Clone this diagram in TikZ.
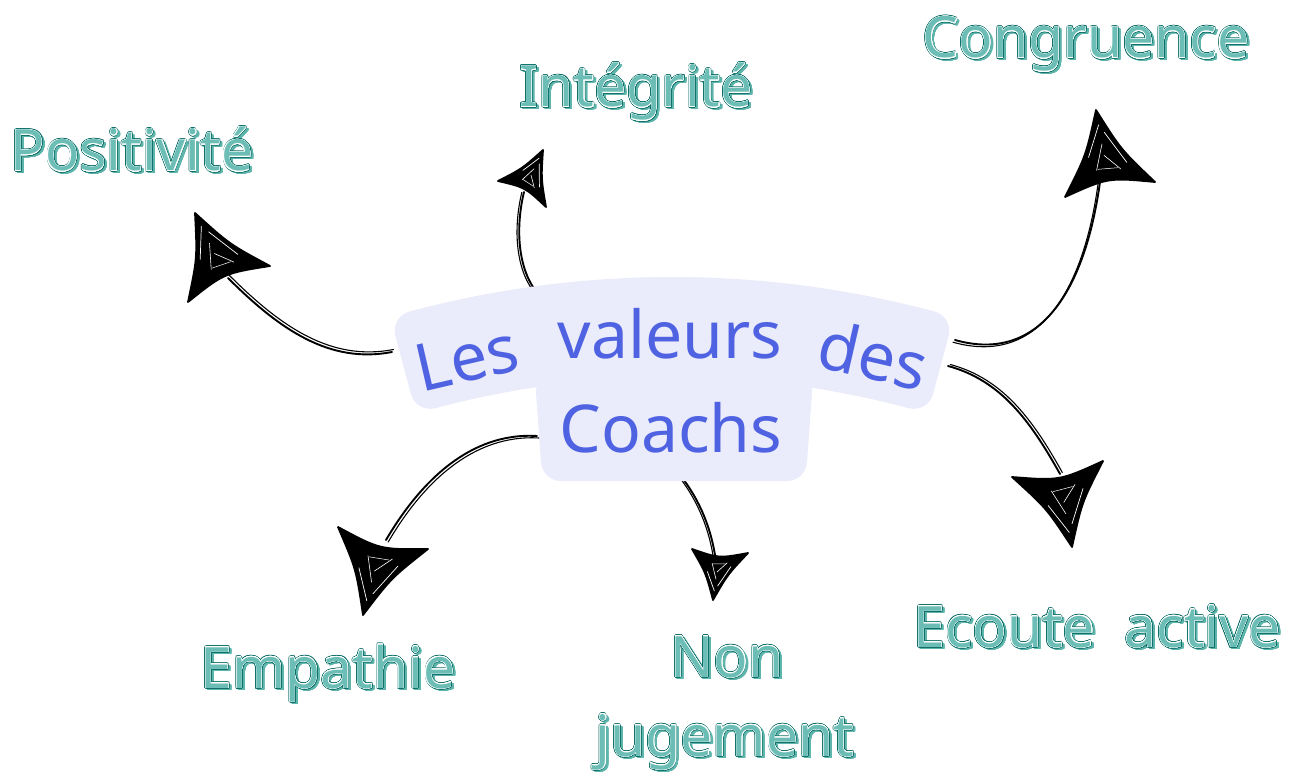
\documentclass[tikz,border=0pt]{standalone}
\usepackage{fontspec}
\setmainfont{Noto Sans}
\usepackage{contour}
\usetikzlibrary{calc}
\definecolor{tdark}{HTML}{12706A}
\definecolor{tlight}{HTML}{5DB5AC}
\definecolor{tin}{HTML}{6CBDB5}
\definecolor{cblue}{HTML}{4F63E2}
\definecolor{cband}{HTML}{EAEBFB}
\tikzset{
  lab/.style={font=\fontsize{57}{68}\selectfont, anchor=base, inner sep=0pt},
  ctext/.style={font=\fontsize{66}{76}\selectfont, anchor=base, inner sep=0pt, text=cblue},
  bandshape/.style={fill=cband, draw=cband, line width=40pt, line join=round},
  shaftline/.style={line width=1.9pt, line cap=round, black},
  shaftthin/.style={line width=1.1pt, line cap=round, black},
}
\newcommand\lbl[3]{%
  \node[lab, text=tlight] (#1s) at ($(#2)+(2.3,2.0)$) {\contourlength{0.9pt}\contour{tlight}{#3}};
  \node[lab, text=tdark] (#1o) at (#2) {\contourlength{1.1pt}\contour{tdark}{#3}};
  \node[lab, text=tin] (#1) at (#2) {\contourlength{0.3pt}\contour{white}{#3}};
}
\newcommand\skhead[4]{%
  \coordinate (#4m) at ($(#2)!0.5!(#3)!0.3333!(#1)$);
  \coordinate (#4p) at ($(#1)!0.5!(#2)!0.22!(#4m)$);
  \coordinate (#4q) at ($(#2)!0.5!(#3)!0.45!(#4m)$);
  \coordinate (#4r) at ($(#3)!0.5!(#1)!0.22!(#4m)$);
  \filldraw[black, line width=1.8pt, line join=round] (#1) .. controls (#4p) .. (#2)
     .. controls (#4q) .. (#3) .. controls (#4r) .. (#1) -- cycle;
  \coordinate (#4a) at ($(#4m)!0.72!(#1)$);
  \coordinate (#4b) at ($(#4m)!0.62!(#2)$);
  \coordinate (#4c) at ($(#4m)!0.62!(#3)$);
  \draw[white, line width=0.7pt, line cap=round] (#4a) -- ($(#4a)!0.55!(#4b)$);
  \draw[white, line width=0.7pt, line cap=round] ($(#4a)!0.15!(#4c)$) -- ($(#4a)!0.75!(#4c)$);
  \draw[white, line width=0.6pt, line cap=round] ($(#4m)!0.5!(#4a)$) -- ($(#4m)!0.35!(#4b)$);
  \draw[white, line width=0.6pt, line cap=round] ($(#4m)!0.2!(#4a)$) -- ($(#4m)!0.5!(#4c)$);
  \draw[white, line width=0.5pt, line cap=round] ($(#4m)!0.3!(#4b)$) -- ($(#4m)!0.4!(#4c)$);
}
\newcommand\shaft[5]{%
  \draw[shaftline] (#1) .. controls #2 and #3 .. (#4);
  \draw[shaftthin] ($(#1)+#5$) .. controls ($#2+#5$) and ($#3+#5$) .. ($(#4)+#5$);
}
\begin{document}
\begin{tikzpicture}[x=1pt,y=-1pt]
\useasboundingbox[fill=white] (0,0) rectangle (1293,773);

% start points on the centre shape and arrow tips
\coordinate (s1) at (392,352);
\coordinate (s2) at (535,290);
\coordinate (s3) at (955,340);
\coordinate (s4) at (948,366);
\coordinate (s5) at (537,436);
\coordinate (s6) at (680,475);

\coordinate (h1) at (195,213); \coordinate (h1a) at (188,302); \coordinate (h1b) at (270,266);
\coordinate (h2) at (543,150); \coordinate (h2a) at (498,181); \coordinate (h2b) at (546,207);
\coordinate (h3) at (1096,110); \coordinate (h3a) at (1065,197); \coordinate (h3b) at (1155,182);
\coordinate (h4) at (1072,547); \coordinate (h4a) at (1012,477); \coordinate (h4b) at (1103,461);
\coordinate (h5) at (363,615); \coordinate (h5a) at (338,527); \coordinate (h5b) at (428,549);
\coordinate (h6) at (713,600); \coordinate (h6a) at (692,549); \coordinate (h6b) at (748,553);

% shafts
\coordinate (e1) at (228,278);
\coordinate (e2) at (524,192);
\coordinate (e3) at (1100,182);
\coordinate (e4) at (1060,474);
\coordinate (e5) at (386,540);
\coordinate (e6) at (716,562);
\shaft{s1}{(330,364)}{(280,330)}{e1}{(1.5,-2.5)}
\shaft{s2}{(517,265)}{(516,225)}{e2}{(-2.2,0.5)}
\shaft{s3}{(1040,364)}{(1085,290)}{e3}{(-2,2.2)}
\shaft{s4}{(1000,380)}{(1030,420)}{e4}{(2.3,-1.5)}
\shaft{s5}{(470,432)}{(420,482)}{e5}{(2.2,2)}
\shaft{s6}{(700,500)}{(712,530)}{e6}{(-2,0.5)}

% heads
\skhead{h1}{h1a}{h1b}{k1}
\skhead{h2}{h2a}{h2b}{k2}
\skhead{h3}{h3a}{h3b}{k3}
\skhead{h4}{h4a}{h4b}{k4}
\skhead{h5}{h5a}{h5b}{k5}
\skhead{h6}{h6a}{h6b}{k6}

% centre shape
\coordinate (C) at (672,1291);
\path[bandshape] ($(C)+(-105:994)$) arc[start angle=-105, end angle=-75, radius=994]
   -- ($(C)+(-75:934)$) arc[start angle=-75, end angle=-105, radius=934] -- cycle;
\path[bandshape] (556,392) -- (792,392) -- (787,461) -- (561,461) -- cycle;

\node[ctext, rotate=13] (les) at (472,381) {Les};
\node[ctext] (val) at (670,358) {valeurs};
\node[ctext, rotate=-13] (des) at (868,379) {des};
\node[ctext] (coachs) at (671,452) {Coachs};

% labels
\lbl{pos}{132,171}{Positivité}
\lbl{integ}{636,107}{Intégrité}
\lbl{cong}{1086,58}{Congruence}
\lbl{emp}{328,688}{Empathie}
\lbl{non}{727,677}{Non}
\lbl{jug}{725,756}{jugement}
\lbl{eco}{1097,647}{Ecoute\ \ active}
\end{tikzpicture}
\end{document}
